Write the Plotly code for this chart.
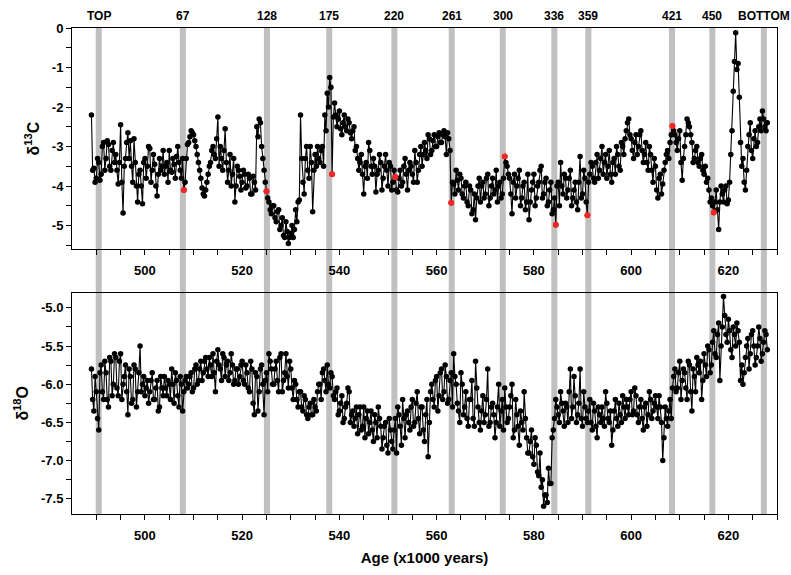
import plotly.graph_objects as go

age = [
    489.0, 489.5, 490.0, 490.5, 491.0, 491.5, 492.0, 492.5, 493.0, 493.5,
    494.0, 494.5, 495.0, 495.5, 496.0, 496.5, 497.0, 497.5, 498.0, 498.5,
    499.0, 499.5, 500.0, 500.5, 501.0, 501.5, 502.0, 502.5, 503.0, 503.5,
    504.0, 504.5, 505.0, 505.5, 506.0, 506.5, 507.0, 507.5, 508.0, 508.5,
    509.0, 509.5, 510.0, 510.5, 511.0, 511.5, 512.0, 512.5, 513.0, 513.5,
    514.0, 514.5, 515.0, 515.5, 516.0, 516.5, 517.0, 517.5, 518.0, 518.5,
    519.0, 519.5, 520.0, 520.5, 521.0, 521.5, 522.0, 522.5, 523.0, 523.5,
    524.0, 524.5, 525.0, 525.5, 526.0, 526.5, 527.0, 527.5, 528.0, 528.5,
    529.0, 529.5, 530.0, 530.5, 531.0, 531.5, 532.0, 532.5, 533.0, 533.5,
    534.0, 534.5, 535.0, 535.5, 536.0, 536.5, 537.0, 537.5, 538.0, 538.5,
    539.0, 539.5, 540.0, 540.5, 541.0, 541.5, 542.0, 542.5, 543.0, 543.5,
    544.0, 544.5, 545.0, 545.5, 546.0, 546.5, 547.0, 547.5, 548.0, 548.5,
    549.0, 549.5, 550.0, 550.5, 551.0, 551.5, 552.0, 552.5, 553.0, 553.5,
    554.0, 554.5, 555.0, 555.5, 556.0, 556.5, 557.0, 557.5, 558.0, 558.5,
    559.0, 559.5, 560.0, 560.5, 561.0, 561.5, 562.0, 562.5, 563.0, 563.5,
    564.0, 564.5, 565.0, 565.5, 566.0, 566.5, 567.0, 567.5, 568.0, 568.5,
    569.0, 569.5, 570.0, 570.5, 571.0, 571.5, 572.0, 572.5, 573.0, 573.5,
    574.0, 574.5, 575.0, 575.5, 576.0, 576.5, 577.0, 577.5, 578.0, 578.5,
    579.0, 579.5, 580.0, 580.5, 581.0, 581.5, 582.0, 582.5, 583.0, 583.5,
    584.0, 584.5, 585.0, 585.5, 586.0, 586.5, 587.0, 587.5, 588.0, 588.5,
    589.0, 589.5, 590.0, 590.5, 591.0, 591.5, 592.0, 592.5, 593.0, 593.5,
    594.0, 594.5, 595.0, 595.5, 596.0, 596.5, 597.0, 597.5, 598.0, 598.5,
    599.0, 599.5, 600.0, 600.5, 601.0, 601.5, 602.0, 602.5, 603.0, 603.5,
    604.0, 604.5, 605.0, 605.5, 606.0, 606.5, 607.0, 607.5, 608.0, 608.5,
    609.0, 609.5, 610.0, 610.5, 611.0, 611.5, 612.0, 612.5, 613.0, 613.5,
    614.0, 614.5, 615.0, 615.5, 616.0, 616.5, 617.0, 617.5, 618.0, 618.5,
    619.0, 619.5, 620.0, 620.5, 621.0, 621.5, 622.0, 622.5, 623.0, 623.5,
    624.0, 624.5, 625.0, 625.5, 626.0, 626.5, 627.0, 627.5, 628.0,
]

d13c = [
    -2.2, -3.55, -3.8, -3.4, -3.7, -2.9, -3.3, -2.95, -3.6, -2.9,
    -3.2, -3.95, -2.45, -4.68, -3.3, -2.65, -2.85, -3.9, -3.4, -4.4,
    -3.6, -4.45, -3.3, -3.5, -3.05, -3.6, -3.45, -4.25, -3.3, -3.5,
    -3.7, -3.4, -3.1, -3.65, -3.45, -3.25, -3.4, -3.8, -4.1, -3.3,
    -2.9, -2.6, -2.7, -3.0, -3.4, -3.8, -4.2, -4.1, -3.7, -3.4,
    -3.0, -3.3, -2.25, -3.0, -3.6, -2.55, -3.9, -3.2, -3.7, -4.4,
    -3.5, -3.75, -3.9, -3.7, -4.0, -3.8, -4.2, -3.9, -2.5, -2.3,
    -3.0, -3.6, -4.13, -4.4, -4.7, -4.5, -4.9, -4.6, -5.0, -5.25,
    -4.9, -5.45, -5.2, -5.3, -4.6, -4.4, -2.2, -3.9, -3.3, -3.6,
    -3.0, -4.65, -3.2, -3.0, -3.4, -3.0, -2.2, -1.65, -1.25, -3.7,
    -1.9, -2.5, -2.1, -2.7, -2.2, -2.6, -2.4, -2.8, -2.5, -3.0,
    -3.6, -3.2, -4.2, -3.4, -2.9, -3.5, -3.3, -4.15, -3.6, -3.4,
    -3.8, -3.2, -4.0, -3.5, -3.9, -3.77, -4.15, -3.6, -3.9, -3.3,
    -4.1, -3.4, -3.7, -3.1, -3.9, -3.2, -3.5, -2.9, -3.3, -2.8,
    -3.1, -2.7, -3.0, -2.65, -2.9, -2.6, -3.2, -2.8, -4.42, -3.95,
    -3.6, -4.1, -3.8, -4.3, -3.9, -4.5, -4.1, -4.6, -4.85, -4.0,
    -4.4, -3.9, -4.2, -3.7, -4.3, -3.8, -4.1, -4.4, -3.9, -4.2,
    -3.25, -3.5, -3.8, -4.7, -3.7, -4.0, -3.6, -4.3, -3.9, -4.4,
    -4.85, -4.1, -3.7, -4.3, -3.9, -3.5, -4.2, -3.8, -4.4, -3.9,
    -4.6, -4.98, -3.9, -3.4, -4.2, -3.8, -4.1, -3.6, -4.3, -3.9,
    -4.6, -3.25, -4.2, -3.8, -4.74, -3.7, -3.5, -3.9, -3.2, -3.6,
    -3.0, -3.4, -3.8, -3.1, -3.9, -3.3, -3.0, -3.5, -2.9, -3.2,
    -2.6, -2.3, -2.8, -3.3, -2.7, -3.0, -2.6, -3.4, -2.9, -3.6,
    -3.2, -3.9, -3.5, -4.3, -3.7, -3.95, -3.4, -3.1, -2.9, -2.48,
    -2.7, -3.1, -2.6, -3.85, -3.0, -2.3, -2.5, -2.9, -3.3, -3.0,
    -3.5, -3.2, -3.7, -3.9, -4.1, -4.3, -4.67, -4.1, -5.1, -4.0,
    -4.4, -4.0, -4.35, -3.2, -1.6, -0.12, -0.9, -2.9, -3.3, -4.1,
    -3.0, -2.4, -3.3, -2.6, -2.9, -2.3, -2.1, -2.5, -2.4,
]

d18o = [
    -5.8, -6.35, -6.1, -6.6, -5.75, -6.2, -5.85, -6.3, -5.7, -6.0,
    -5.65, -6.15, -5.6, -6.0, -5.75, -6.4, -5.9, -6.2, -5.8, -6.1,
    -5.5, -6.0, -6.15, -5.95, -6.1, -5.85, -6.2, -5.95, -6.3, -6.05,
    -5.9, -6.15, -6.0, -5.8, -6.25, -5.95, -6.3, -6.0, -6.1, -5.9,
    -6.0, -5.85, -6.05, -5.75, -5.95, -5.7, -5.85, -5.65, -5.9, -5.75,
    -5.6, -6.1, -5.55, -5.8, -5.6, -5.9, -5.7, -5.85, -5.75, -5.95,
    -5.8, -5.9, -5.7, -6.0, -5.85, -6.1, -5.8, -6.4, -5.9, -6.1,
    -5.75, -6.4, -5.85, -5.6, -5.8, -6.0, -5.7, -6.1, -5.6, -5.95,
    -5.6, -6.05, -5.8, -6.2, -6.0, -6.3, -6.1, -6.35, -6.2, -6.45,
    -6.25, -6.4, -6.3, -6.1, -6.0, -5.85, -5.95, -5.75, -6.05, -5.9,
    -6.2, -6.05, -6.35, -6.15, -6.45, -6.25, -6.1, -6.4, -6.55, -6.3,
    -6.4, -6.6, -6.3, -6.45, -6.65, -6.35, -6.75, -6.5, -6.3, -6.55,
    -6.7, -6.5, -6.9, -6.6, -6.85, -6.45, -6.3, -6.55, -6.2, -6.7,
    -6.35, -6.6, -6.2, -6.5, -6.1, -6.65, -6.3, -6.75, -6.2, -6.5,
    -6.0, -6.3, -5.9, -6.15, -5.8, -6.1, -5.9, -6.2, -5.85, -5.6,
    -6.0, -6.35, -5.85, -6.4, -6.1, -6.55, -6.2, -6.45, -5.7, -6.3,
    -6.6, -6.15, -6.4, -5.8, -6.5, -6.25, -6.7, -6.3, -6.55, -6.2,
    -6.05, -6.5, -6.3, -6.0, -6.6, -6.4, -6.8, -6.5, -6.1, -6.7,
    -6.9, -6.6, -7.05, -6.8, -7.2, -7.35, -7.6, -7.45, -7.1, -7.3,
    -6.6, -6.2, -6.4, -6.1, -6.35, -6.25, -6.5, -5.8, -6.3, -6.15,
    -6.4, -5.8, -6.55, -6.3, -6.5, -6.2, -6.6, -6.35, -6.7, -6.4,
    -6.3, -6.55, -6.25, -6.5, -6.8, -6.35, -6.45, -6.25, -6.5, -6.3,
    -6.2, -6.4, -6.1, -6.35, -6.15, -6.5, -6.2, -6.6, -6.25, -6.4,
    -6.2, -6.35, -6.15, -6.45, -6.3, -7.0, -6.3, -6.55, -6.2, -6.05,
    -5.8, -6.05, -5.7, -5.95, -5.85, -6.2, -5.75, -6.35, -5.9, -5.65,
    -5.85, -6.2, -5.6, -5.9, -5.55, -5.75, -5.3, -5.65, -5.2, -5.5,
    -4.85, -5.35, -5.15, -5.55, -5.25, -5.5, -5.3, -5.95, -6.0, -5.65,
    -5.4, -5.6, -5.3, -5.75, -5.5, -5.4, -5.6, -5.3, -5.55,
]

age_mid = [
    489.25, 489.75, 490.25, 490.75, 491.25, 491.75, 492.25, 492.75, 493.25, 493.75,
    494.25, 494.75, 495.25, 495.75, 496.25, 496.75, 497.25, 497.75, 498.25, 498.75,
    499.25, 499.75, 500.25, 500.75, 501.25, 501.75, 502.25, 502.75, 503.25, 503.75,
    504.25, 504.75, 505.25, 505.75, 506.25, 506.75, 507.25, 507.75, 508.25, 508.75,
    509.25, 509.75, 510.25, 510.75, 511.25, 511.75, 512.25, 512.75, 513.25, 513.75,
    514.25, 514.75, 515.25, 515.75, 516.25, 516.75, 517.25, 517.75, 518.25, 518.75,
    519.25, 519.75, 520.25, 520.75, 521.25, 521.75, 522.25, 522.75, 523.25, 523.75,
    524.25, 524.75, 525.25, 525.75, 526.25, 526.75, 527.25, 527.75, 528.25, 528.75,
    529.25, 529.75, 530.25, 530.75, 531.25, 531.75, 532.25, 532.75, 533.25, 533.75,
    534.25, 534.75, 535.25, 535.75, 536.25, 536.75, 537.25, 537.75, 538.25, 538.75,
    539.25, 539.75, 540.25, 540.75, 541.25, 541.75, 542.25, 542.75, 543.25, 543.75,
    544.25, 544.75, 545.25, 545.75, 546.25, 546.75, 547.25, 547.75, 548.25, 548.75,
    549.25, 549.75, 550.25, 550.75, 551.25, 551.75, 552.25, 552.75, 553.25, 553.75,
    554.25, 554.75, 555.25, 555.75, 556.25, 556.75, 557.25, 557.75, 558.25, 558.75,
    559.25, 559.75, 560.25, 560.75, 561.25, 561.75, 562.25, 562.75, 563.25, 563.75,
    564.25, 564.75, 565.25, 565.75, 566.25, 566.75, 567.25, 567.75, 568.25, 568.75,
    569.25, 569.75, 570.25, 570.75, 571.25, 571.75, 572.25, 572.75, 573.25, 573.75,
    574.25, 574.75, 575.25, 575.75, 576.25, 576.75, 577.25, 577.75, 578.25, 578.75,
    579.25, 579.75, 580.25, 580.75, 581.25, 581.75, 582.25, 582.75, 583.25, 583.75,
    584.25, 584.75, 585.25, 585.75, 586.25, 586.75, 587.25, 587.75, 588.25, 588.75,
    589.25, 589.75, 590.25, 590.75, 591.25, 591.75, 592.25, 592.75, 593.25, 593.75,
    594.25, 594.75, 595.25, 595.75, 596.25, 596.75, 597.25, 597.75, 598.25, 598.75,
    599.25, 599.75, 600.25, 600.75, 601.25, 601.75, 602.25, 602.75, 603.25, 603.75,
    604.25, 604.75, 605.25, 605.75, 606.25, 606.75, 607.25, 607.75, 608.25, 608.75,
    609.25, 609.75, 610.25, 610.75, 611.25, 611.75, 612.25, 612.75, 613.25, 613.75,
    614.25, 614.75, 615.25, 615.75, 616.25, 616.75, 617.25, 617.75, 618.25, 618.75,
    619.25, 619.75, 620.25, 620.75, 621.25, 621.75, 622.25, 622.75, 623.25, 623.75,
    624.25, 624.75, 625.25, 625.75, 626.25, 626.75, 627.25, 627.75,
]

d13c_mid = [
    -3.6, -3.9, -3.3, -3.85, -3.0, -3.6, -2.85, -3.5, -3.1, -3.4,
    -3.6, -3.4, -3.9, -3.5, -2.9, -3.3, -3.5, -2.8, -4.0, -3.7,
    -4.0, -3.4, -3.8, -3.0, -3.9, -3.2, -4.0, -3.7, -3.6, -3.1,
    -3.5, -3.9, -3.6, -3.3, -3.8, -3.0, -3.6, -3.3, -3.9, -2.95,
    -2.75, -2.65, -2.85, -3.2, -3.6, -4.05, -4.25, -3.9, -3.5, -3.1,
    -3.2, -2.8, -3.5, -3.3, -3.1, -3.4, -3.6, -4.0, -3.3, -4.0,
    -3.6, -4.1, -3.6, -4.05, -3.7, -4.2, -3.75, -4.1, -2.75, -2.4,
    -3.3, -3.9, -4.3, -4.6, -4.5, -4.8, -4.65, -5.1, -4.8, -5.3,
    -5.15, -5.3, -5.0, -5.1, -4.9, -4.35, -3.3, -4.2, -3.0, -3.8,
    -3.4, -3.6, -3.5, -3.3, -3.1, -3.5, -2.6, -2.0, -1.5, -2.25,
    -2.2, -2.3, -2.55, -2.4, -2.5, -2.3, -2.65, -2.6, -3.1, -3.3,
    -3.4, -3.7, -3.5, -3.8, -3.1, -3.7, -3.5, -3.7, -3.2, -4.1,
    -3.5, -3.6, -3.4, -4.1, -3.6, -4.1, -3.8, -4.0, -3.5, -3.7,
    -3.6, -3.5, -3.9, -3.4, -3.6, -3.0, -3.2, -3.1, -2.7, -3.2,
    -2.85, -3.0, -2.75, -2.9, -2.7, -2.75, -2.65, -3.1, -3.9, -4.2,
    -3.85, -3.7, -4.2, -4.0, -4.4, -4.0, -4.7, -4.2, -4.3, -3.8,
    -4.0, -4.3, -3.8, -4.5, -4.0, -4.2, -3.6, -4.0, -4.3, -3.8,
    -3.4, -3.7, -4.2, -3.9, -4.3, -3.8, -4.5, -4.0, -4.6, -3.7,
    -4.4, -3.9, -4.5, -4.0, -3.6, -4.3, -3.9, -4.5, -4.1, -4.7,
    -4.3, -4.0, -4.5, -4.0, -3.7, -4.3, -3.8, -4.5, -4.1, -4.4,
    -3.9, -4.3, -3.6, -4.4, -3.9, -3.4, -3.8, -3.4, -3.8, -3.3,
    -3.7, -3.2, -3.5, -3.7, -3.4, -3.7, -3.2, -3.6, -3.0, -2.8,
    -2.4, -2.7, -3.1, -2.9, -3.2, -2.7, -3.1, -3.2, -3.4, -3.0,
    -3.6, -3.3, -4.1, -3.8, -4.2, -3.6, -3.2, -3.3, -2.7, -2.6,
    -2.9, -2.8, -3.4, -3.3, -2.7, -2.4, -2.7, -3.4, -3.1, -3.4,
    -3.3, -3.6, -3.5, -3.8, -4.4, -4.5, -4.4, -4.6, -4.4, -4.2,
    -4.1, -4.45, -3.9, -2.6, -0.85, -1.05, -1.75, -3.5, -3.9, -3.6,
    -2.7, -3.1, -2.8, -3.0, -2.5, -2.6, -2.3, -2.6,
]

d18o_mid = [
    -6.2, -5.9, -6.45, -5.85, -6.1, -5.7, -6.2, -5.65, -6.15, -5.6,
    -6.05, -5.7, -6.2, -5.9, -6.1, -5.8, -6.25, -5.75, -6.3, -5.85,
    -6.1, -5.9, -6.05, -6.25, -5.95, -6.2, -6.05, -6.35, -5.9, -6.15,
    -6.05, -5.95, -6.2, -6.0, -5.85, -6.15, -5.9, -6.35, -5.95, -6.05,
    -5.9, -6.1, -5.8, -6.0, -5.8, -5.95, -5.7, -5.8, -5.65, -5.9,
    -5.85, -5.7, -5.75, -5.95, -5.65, -5.75, -5.95, -5.6, -6.0, -5.8,
    -6.0, -5.75, -5.95, -5.75, -6.05, -5.7, -6.25, -5.85, -6.35, -5.8,
    -6.0, -5.95, -6.1, -5.7, -6.0, -5.8, -5.95, -5.65, -6.1, -5.85,
    -5.9, -5.7, -6.05, -5.95, -6.2, -6.1, -6.3, -6.15, -6.4, -6.3,
    -6.4, -6.2, -6.35, -6.0, -6.2, -5.8, -6.1, -6.0, -5.85, -6.15,
    -6.1, -6.4, -6.25, -6.5, -6.3, -6.05, -6.5, -6.35, -6.45, -6.65,
    -6.3, -6.55, -6.7, -6.35, -6.5, -6.6, -6.4, -6.7, -6.45, -6.85,
    -6.55, -6.8, -6.45, -6.75, -6.6, -6.9, -6.4, -6.8, -6.45, -6.4,
    -6.5, -6.3, -6.55, -6.25, -6.45, -6.3, -6.6, -6.4, -6.95, -6.1,
    -6.2, -5.95, -6.35, -5.85, -6.2, -5.75, -6.25, -5.95, -6.3, -5.9,
    -6.25, -6.5, -6.0, -6.3, -6.45, -6.2, -5.95, -6.55, -6.05, -6.5,
    -6.35, -6.5, -6.2, -6.55, -6.3, -6.4, -6.5, -6.0, -6.35, -6.6,
    -6.3, -6.45, -6.15, -6.7, -6.2, -6.55, -6.35, -6.6, -6.45, -6.9,
    -6.75, -6.95, -6.7, -7.15, -6.9, -7.25, -7.45, -7.55, -7.3, -6.7,
    -6.45, -6.3, -6.5, -6.25, -6.55, -6.3, -6.1, -6.45, -5.9, -6.5,
    -6.25, -6.45, -6.1, -6.45, -6.35, -6.5, -6.25, -6.55, -6.3, -6.5,
    -6.45, -6.1, -6.45, -6.35, -6.6, -6.2, -6.55, -6.4, -6.15, -6.45,
    -6.3, -6.2, -6.4, -6.05, -6.4, -6.3, -6.45, -6.3, -6.55, -6.1,
    -6.45, -6.25, -6.3, -6.15, -6.5, -6.7, -6.45, -6.35, -6.45, -5.9,
    -6.1, -5.85, -6.2, -5.8, -6.05, -5.7, -6.1, -5.8, -6.1, -5.75,
    -5.7, -5.95, -5.75, -5.5, -5.85, -5.45, -5.6, -5.35, -5.95, -5.25,
    -5.1, -5.45, -5.3, -5.65, -5.35, -5.2, -5.45, -5.75, -5.85, -5.5,
    -5.8, -5.35, -5.5, -5.65, -5.25, -5.7, -5.45, -5.35,
]

red_age = [508.0, 525.0, 538.5, 551.5, 563.0, 574.0, 584.5, 591.0, 608.5, 617.0]
red_d13c = [-4.1, -4.13, -3.7, -3.77, -4.42, -3.25, -4.98, -4.74, -2.48, -4.67]

band_age = [490.5, 507.8, 525.1, 537.9, 551.3, 563.1, 573.6, 584.2, 591.2, 608.4, 616.7, 627.3]
band_label = ["TOP", "67", "128", "175", "220", "261", "300", "336", "359", "421", "450", "BOTTOM"]

x_major = [500, 520, 540, 560, 580, 600, 620]
x_minor = [490, 495, 505, 510, 515, 525, 530, 535, 545, 550, 555, 565, 570, 575,
           585, 590, 595, 605, 610, 615, 625, 630]
y1_major = [0, -1, -2, -3, -4, -5]
y1_text = ["0", "-1", "-2", "-3", "-4", "-5"]
y1_minor = [-0.5, -1.5, -2.5, -3.5, -4.5, -5.5]
y2_major = [-5.0, -5.5, -6.0, -6.5, -7.0, -7.5]
y2_text = ["-5.0", "-5.5", "-6.0", "-6.5", "-7.0", "-7.5"]
y2_minor = [-4.75, -5.25, -5.75, -6.25, -6.75, -7.25]

# merge the two sets of samples in age order
c13 = sorted(zip(age + age_mid, d13c + d13c_mid))
o18 = sorted(zip(age + age_mid, d18o + d18o_mid))
c13_x = [p[0] for p in c13]
c13_y = [p[1] for p in c13]
o18_x = [p[0] for p in o18]
o18_y = [p[1] for p in o18]

FONT = "Liberation Sans, Arial, sans-serif"
tickfont = dict(family=FONT, size=13, color="black", weight="bold")

fig = go.Figure()
fig.add_trace(go.Scatter(x=c13_x, y=c13_y, mode="lines+markers",
                         line=dict(color="black", width=1.1),
                         marker=dict(color="black", size=5.5),
                         xaxis="x", yaxis="y", showlegend=False, hoverinfo="skip"))
fig.add_trace(go.Scatter(x=red_age, y=red_d13c, mode="markers",
                         marker=dict(color="#ff2424", size=6),
                         xaxis="x", yaxis="y", showlegend=False, hoverinfo="skip"))
fig.add_trace(go.Scatter(x=o18_x, y=o18_y, mode="lines+markers",
                         line=dict(color="black", width=1.1),
                         marker=dict(color="black", size=5.5),
                         xaxis="x2", yaxis="y2", showlegend=False, hoverinfo="skip"))

shapes = []
for b in band_age:
    shapes.append(dict(type="rect", xref="x", yref="paper", x0=b - 0.62, x1=b + 0.62,
                       y0=0, y1=1, fillcolor="#c0c0c0", line=dict(width=0), layer="below"))

annotations = []
for b, lab in zip(band_age, band_label):
    annotations.append(dict(x=b, y=1, xref="x", yref="paper", text=lab, showarrow=False,
                            xanchor="center", yanchor="bottom", yshift=3,
                            font=dict(family=FONT, size=12, color="black", weight="bold")))

xcommon = dict(range=[485, 630], showline=True, linecolor="black", linewidth=1, mirror=True,
               ticks="outside", ticklen=5, tickcolor="black", tickwidth=1,
               tickmode="array", tickvals=x_major, ticktext=[str(v) for v in x_major],
               minor=dict(tickmode="array", tickvals=x_minor, ticks="outside", ticklen=5,
                          tickcolor="black", tickwidth=1),
               showgrid=False, zeroline=False, tickfont=tickfont, ticklabelstandoff=4)

fig.update_layout(
    width=791, height=575,
    margin=dict(l=72, r=14, t=28, b=52),
    paper_bgcolor="white", plot_bgcolor="rgba(0,0,0,0)",
    showlegend=False,
    shapes=shapes, annotations=annotations,
    xaxis=dict(domain=[0, 1], anchor="y", **xcommon),
    xaxis2=dict(domain=[0, 1], anchor="y2",
                title=dict(text="Age (x1000 years)", standoff=10,
                           font=dict(family=FONT, size=15, color="black", weight="bold")),
                **xcommon),
    yaxis=dict(domain=[0.5446, 1], anchor="x", range=[-5.6, 0],
               showline=True, linecolor="black", linewidth=1, mirror=True,
               ticks="outside", ticklen=5, tickcolor="black",
               tickmode="array", tickvals=y1_major, ticktext=y1_text,
               minor=dict(tickmode="array", tickvals=y1_minor, ticks="outside", ticklen=5,
                          tickcolor="black"),
               showgrid=False, zeroline=False, tickfont=tickfont,
               title=dict(text="δ<sup>13</sup>C", standoff=8,
                          font=dict(family=FONT, size=16, color="black", weight="bold"))),
    yaxis2=dict(domain=[0, 0.4556], anchor="x2", range=[-7.7, -4.8],
                showline=True, linecolor="black", linewidth=1, mirror=True,
                ticks="outside", ticklen=5, tickcolor="black",
                tickmode="array", tickvals=y2_major, ticktext=y2_text,
                minor=dict(tickmode="array", tickvals=y2_minor, ticks="outside", ticklen=5,
                           tickcolor="black"),
                showgrid=False, zeroline=False, tickfont=tickfont,
                title=dict(text="δ<sup>18</sup>O", standoff=8,
                           font=dict(family=FONT, size=16, color="black", weight="bold"))),
)

fig.write_html("out.html")
